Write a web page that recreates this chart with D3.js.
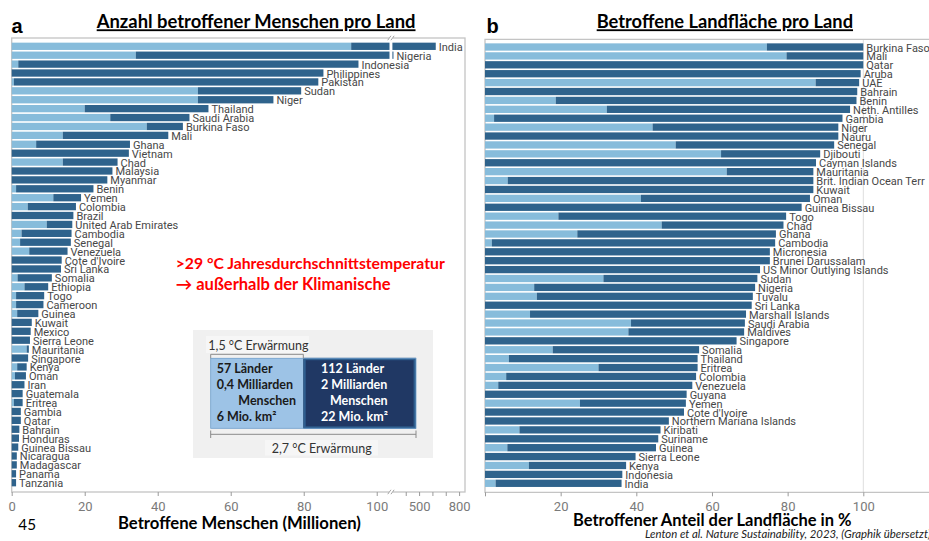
<!DOCTYPE html>
<html>
<head>
<meta charset="utf-8">
<script src="https://cdn.jsdelivr.net/npm/d3@7"></script>
<style>
  body { margin: 0; background: #fff; }
  svg { display: block; }
</style>
</head>
<body>
<svg id="chart" width="929" height="541"></svg>
<script>
// ---------- Panel a: affected people per country (millions) ----------
const peopleCountries = ["India","Nigeria","Indonesia","Philippines","Pakistan","Sudan","Niger","Thailand",
  "Saudi Arabia","Burkina Faso","Mali","Ghana","Vietnam","Chad","Malaysia","Myanmar","Benin","Yemen",
  "Colombia","Brazil","United Arab Emirates","Cambodia","Senegal","Venezuela","Cote d'Ivoire","Sri Lanka",
  "Somalia","Ethiopia","Togo","Cameroon","Guinea","Kuwait","Mexico","Sierra Leone","Mauritania","Singapore",
  "Kenya","Oman","Iran","Guatemala","Eritrea","Gambia","Qatar","Bahrain","Honduras","Guinea Bissau",
  "Nicaragua","Madagascar","Panama","Tanzania"];
// affected at 1.5 °C warming
const people15 = [93,34,1.8,0,0.6,51,51,20,27,37,14,6.7,0,14,0,0,1.2,11.4,4.4,0,9.6,2.7,2.3,4.8,0,0,
  1.6,3.5,1.2,1.2,1.5,0,0,0,4.1,0,1.5,0.9,0,0,0.6,0,0,0,0,0,0,0,0,0];
// affected at 2.7 °C warming
const people27 = [625,308,95,85.4,84,79.3,71.7,53.9,48.7,46.9,42.9,32.4,32.1,29,27.6,26.2,22.4,19,17.6,
  16.9,16.6,16.4,16.2,15.3,13.7,13.5,11,10,8.9,8.7,7.3,5.5,5.2,5,4.7,4.5,4.1,3.9,3.5,3.0,3.0,2.5,2.5,
  2.1,2.0,1.8,1.4,1.4,1.2,1.2];
const peopleTicksLow = [0,20,40,60,80,100];
const peopleTicksHigh = [400,500,600,700,800];
const peopleTickLabelsHigh = ["","500","","","800"];

// ---------- Panel b: affected share of land area (%) ----------
const landCountries = ["Burkina Faso","Mali","Qatar","Aruba","UAE","Bahrain","Benin","Neth. Antilles",
  "Gambia","Niger","Nauru","Senegal","Djibouti","Cayman Islands","Mauritania","Brit. Indian Ocean Terr",
  "Kuwait","Oman","Guinea Bissau","Togo","Chad","Ghana","Cambodia","Micronesia","Brunei Darussalam",
  "US Minor Outlying Islands","Sudan","Nigeria","Tuvalu","Sri Lanka","Marshall Islands","Saudi Arabia",
  "Maldives","Singapore","Somalia","Thailand","Eritrea","Colombia","Venezuela","Guyana","Yemen",
  "Cote d'Ivoire","Northern Mariana Islands","Kiribati","Suriname","Guinea","Sierra Leone","Kenya",
  "Indonesia","India"];
const land15 = [74.5,79.7,0,0,87.4,0,18.7,32.2,2.4,44.3,0,50.4,62.4,0,63.9,6.0,0,41.2,0,19.4,46.7,24.4,
  1.8,0,0,0,31.3,13,13.7,0,11.9,38.6,37.9,0,17.9,6.3,30,5.6,3.5,0,25.1,0,0,9.1,0,5.9,0,11.6,0,2.8];
const land27 = [100,100,100,99.3,98.9,98.4,98.2,96.5,94.5,93.4,93.4,92.3,88.6,87.5,86.8,86.8,86.8,85.9,
  83.7,79.6,78.9,76.9,76.7,75.3,75.3,72.7,72,71.4,70.8,70.5,69,68.7,68.5,66.5,56.6,56.2,56.2,55.8,54.8,
  53.3,53.1,52.6,48.6,46.4,45.8,45.2,39.8,37.3,36.3,36.1];
const landTicks = [0,20,40,60,80,100];
const landTickLabels = ["","20","40","60","80","100"];

// ---------- styling ----------
const COL = {
  light: "#87bcdb", dark: "#2f638c", frame: "#c4c4c4", label: "#474747",
  tick: "#7a7a7a", tickLine: "#9a9a9a", red: "#ff0000"
};
const SANS = "Roboto, 'Noto Sans', sans-serif";
const CAL = "Lato, 'Open Sans', sans-serif";

const svg = d3.select("#chart");

// scale a text node so its rendered width equals the given width
function fitWidth(sel, width) {
  const base = parseFloat(sel.attr("font-size"));
  const w = sel.node().getComputedTextLength();
  if (w > 0) sel.attr("font-size", (base * width / w).toFixed(2));
  return sel;
}

// ================= Panel a =================
const gA = svg.append("g");
const aLeft = 11.7, aRight = 465, aTop = 38, aBottom = 492;
const breakLow = 103.5, breakHigh = 300;
const xaLow = d3.scaleLinear().domain([0, breakLow]).range([aLeft, 389.5]);
const xaHigh = d3.scaleLinear().domain([breakHigh, 800]).range([392.4, 459.1]);
const xa = v => (v <= breakLow ? xaLow(v) : xaHigh(v));
const ya = d3.scaleBand().domain(peopleCountries).range([41.85, 487.15])
  .paddingInner(0.18).paddingOuter(0.09);

// pieces of a bar between two values, split at the broken axis
function pieces(v0, v1) {
  if (v1 <= breakLow) return [[xa(v0), xa(v1)]];
  const out = [];
  if (v0 < breakLow) out.push([xaLow(v0), xaLow(breakLow)]);
  out.push([xaHigh(Math.max(v0, breakHigh)), xaHigh(v1)]);
  return out;
}

gA.append("rect")
  .attr("x", aLeft).attr("y", aTop)
  .attr("width", aRight - aLeft).attr("height", aBottom - aTop)
  .attr("fill", "none").attr("stroke", COL.frame).attr("stroke-width", 1.3);

const rowsA = peopleCountries.map((c, i) => ({ c, v15: people15[i], v27: people27[i] }));
const barA = gA.append("g").selectAll("g").data(rowsA).join("g");
barA.each(function (d) {
  const g = d3.select(this);
  const y = ya(d.c), h = ya.bandwidth();
  if (d.v15 > 0) {
    pieces(0, d.v15).forEach(([x0, x1]) =>
      g.append("rect").attr("x", x0).attr("y", y).attr("width", x1 - x0).attr("height", h).attr("fill", COL.light));
  }
  pieces(d.v15, d.v27).forEach(([x0, x1]) =>
    g.append("rect").attr("x", x0).attr("y", y).attr("width", Math.max(0.8, x1 - x0)).attr("height", h).attr("fill", COL.dark));
});
gA.append("g").selectAll("text").data(rowsA).join("text")
  .attr("x", d => xa(d.v27) + 3)
  .attr("y", d => ya(d.c) + ya.bandwidth() / 2 + 1)
  .attr("dominant-baseline", "central")
  .attr("font-family", SANS).attr("font-size", 11).attr("fill", COL.label)
  .text(d => d.c);

// axis a (two segments)
function styleAxis(g) {
  g.select(".domain").remove();
  g.selectAll(".tick line").attr("stroke", COL.tickLine);
  g.selectAll(".tick text").attr("fill", COL.tick).attr("font-family", SANS).attr("font-size", 13);
}
gA.append("g").attr("transform", `translate(0,${aBottom})`)
  .call(d3.axisBottom(xaLow).tickValues(peopleTicksLow).tickSize(4).tickPadding(5.5))
  .call(styleAxis);
gA.append("g").attr("transform", `translate(0,${aBottom})`)
  .call(d3.axisBottom(xaHigh).tickValues(peopleTicksHigh).tickSize(4).tickPadding(5.5)
    .tickFormat((d, i) => peopleTickLabelsHigh[i]))
  .call(styleAxis);

// axis break marks
const bx = (xaLow(breakLow) + xaHigh(breakHigh)) / 2;
[aTop, aBottom].forEach(y => {
  gA.append("rect").attr("x", bx - 2).attr("y", y - 2).attr("width", 4).attr("height", 4).attr("fill", "#fff");
  [-1.6, 1.6].forEach(dx =>
    gA.append("line").attr("x1", bx + dx - 1.6).attr("y1", y + 2.2).attr("x2", bx + dx + 1.6).attr("y2", y - 2.2)
      .attr("stroke", "#999").attr("stroke-width", 0.9));
});

// ================= Panel b =================
const gB = svg.append("g");
const bLeft = 485, bTop = 39.3, bBottom = 492.3;
const xb = d3.scaleLinear().domain([0, 100]).range([bLeft, 863.3]);
const yb = d3.scaleBand().domain(landCountries).range([42.55, 487.75])
  .paddingInner(0.18).paddingOuter(0.09);

gB.append("line").attr("x1", xb(100)).attr("x2", xb(100)).attr("y1", bTop).attr("y2", bBottom)
  .attr("stroke", "#dedede").attr("stroke-width", 1);
gB.append("path")
  .attr("d", `M935,${bTop}H${bLeft}V${bBottom}H935`)
  .attr("fill", "none").attr("stroke", COL.frame).attr("stroke-width", 1.3);

const rowsB = landCountries.map((c, i) => ({ c, v15: land15[i], v27: land27[i] }));
const barB = gB.append("g").selectAll("g").data(rowsB).join("g");
barB.append("rect")
  .attr("x", d => xb(0)).attr("y", d => yb(d.c))
  .attr("width", d => xb(d.v15) - xb(0)).attr("height", yb.bandwidth())
  .attr("fill", COL.light);
barB.append("rect")
  .attr("x", d => xb(d.v15)).attr("y", d => yb(d.c))
  .attr("width", d => xb(d.v27) - xb(d.v15)).attr("height", yb.bandwidth())
  .attr("fill", COL.dark);
gB.append("g").selectAll("text").data(rowsB).join("text")
  .attr("x", d => xb(d.v27) + 3)
  .attr("y", d => yb(d.c) + yb.bandwidth() / 2 + 1)
  .attr("dominant-baseline", "central")
  .attr("font-family", SANS).attr("font-size", 11).attr("fill", COL.label)
  .text(d => d.c);

gB.append("g").attr("transform", `translate(0,${bBottom})`)
  .call(d3.axisBottom(xb).tickValues(landTicks).tickSize(4).tickPadding(5.5)
    .tickFormat((d, i) => landTickLabels[i]))
  .call(styleAxis);

// ================= titles and annotations =================
svg.append("text").attr("x", 11.5).attr("y", 33.3)
  .attr("font-family", "'Liberation Sans', Arial, sans-serif").attr("font-weight", 700)
  .attr("font-size", 20).text("a");
svg.append("text").attr("x", 486.5).attr("y", 33.3)
  .attr("font-family", "'Liberation Sans', Arial, sans-serif").attr("font-weight", 700)
  .attr("font-size", 20).text("b");

function heading(x0, x1, y, txt, opts = {}) {
  const t = svg.append("text")
    .attr("x", x0).attr("y", y)
    .attr("font-family", CAL).attr("font-weight", opts.weight || 700)
    .attr("font-style", opts.style || "normal")
    .attr("font-size", opts.size || 16)
    .attr("fill", opts.fill || "#000")
    .style("text-decoration", opts.underline ? "underline" : "none")
    .text(txt);
  fitWidth(t, x1 - x0);
  if (opts.full) t.text(opts.full);
  return t;
}

heading(96.7, 415.7, 28.3, "Anzahl betroffener Menschen pro Land", { underline: true, size: 18 });
heading(596.7, 853.3, 28.3, "Betroffene Landfläche pro Land", { underline: true, size: 18 });

heading(118, 361, 529, "Betroffene Menschen (Millionen)", { size: 16 });
heading(573, 851.7, 526, "Betroffener Anteil der Landfläche in %", { size: 16 });

heading(18.3, 36, 530, "45", { weight: 400, size: 15 });

heading(645, 928, 538.3, "Lenton et al. Nature Sustainability, 2023, (Graphik übersetzt",
  { weight: 400, style: "italic", size: 11, fill: "#222",
    full: "Lenton et al. Nature Sustainability, 2023, (Graphik übersetzt)" });

heading(175.7, 445, 269.3, ">29 °C Jahresdurchschnittstemperatur", { size: 15, fill: COL.red });
heading(175.7, 390.7, 289.5, "→ außerhalb der Klimanische", { size: 15, fill: COL.red });

// ================= inset: warming comparison =================
const gI = svg.append("g");
gI.append("rect").attr("x", 193).attr("y", 330).attr("width", 240).attr("height", 128).attr("fill", "#f0f0f0");
gI.append("rect").attr("x", 206).attr("y", 336).attr("width", 103).attr("height", 17).attr("fill", "#f6f6f6");
gI.append("rect").attr("x", 265).attr("y", 440).attr("width", 113).attr("height", 15.5).attr("fill", "#f6f6f6");

const boxTop = 358.3, boxBottom = 428.3, bx0 = 210.7, bxMid = 303.3, bx1 = 416;
gI.append("rect").attr("x", bx0).attr("y", boxTop).attr("width", bxMid - bx0).attr("height", boxBottom - boxTop)
  .attr("fill", "#9dc3e6");
gI.append("rect").attr("x", bxMid).attr("y", boxTop).attr("width", bx1 - bxMid).attr("height", boxBottom - boxTop)
  .attr("fill", "#203864");
gI.append("rect").attr("x", bxMid + 1.2).attr("y", boxTop + 0.7).attr("width", bx1 - bxMid - 2.4)
  .attr("height", boxBottom - boxTop - 1.4)
  .attr("fill", "none").attr("stroke", "#2f5f8f").attr("stroke-width", 2.4);
gI.append("rect").attr("x", bx0).attr("y", boxTop).attr("width", bx1 - bx0).attr("height", boxBottom - boxTop)
  .attr("fill", "none").attr("stroke", "#6f9fcb").attr("stroke-width", 0.8);

// brackets
const brk = gI.append("g").attr("stroke", "#8a8a8a").attr("stroke-width", 1).attr("fill", "none");
brk.append("path").attr("d", `M${bx0},${boxTop}V354.3H${bxMid}V${boxTop}`);
brk.append("path").attr("d", `M${bx0},430.5V438M${bx0},434.3H${bx1}M${bx1},430.5V438`);

gI.append("text").attr("x", 208.3).attr("y", 350).attr("font-family", CAL).attr("font-size", 12.5)
  .attr("fill", "#333").text("1,5 °C Erwärmung");
gI.append("text").attr("x", 271.7).attr("y", 453).attr("font-family", CAL).attr("font-size", 12.5)
  .attr("fill", "#333").text("2,7 °C Erwärmung");

const insetLines = [
  { x: 216.7, x2: 321, a: "57 Länder", b: "112 Länder" },
  { x: 216.7, x2: 321, a: "0,4 Milliarden", b: "2 Milliarden" },
  { x: 238.3, x2: 330, a: "Menschen", b: "Menschen" },
  { x: 216.7, x2: 321, a: "6 Mio. km²", b: "22 Mio. km²" }
];
insetLines.forEach((l, i) => {
  const y = 372.7 + i * 16.2;
  gI.append("text").attr("x", l.x).attr("y", y).attr("font-family", CAL).attr("font-weight", 700)
    .attr("font-size", 12.5).attr("fill", "#1a1a1a").text(l.a);
  gI.append("text").attr("x", l.x2).attr("y", y).attr("font-family", CAL).attr("font-weight", 700)
    .attr("font-size", 12.5).attr("fill", "#ffffff").text(l.b);
});
</script>
</body>
</html>
